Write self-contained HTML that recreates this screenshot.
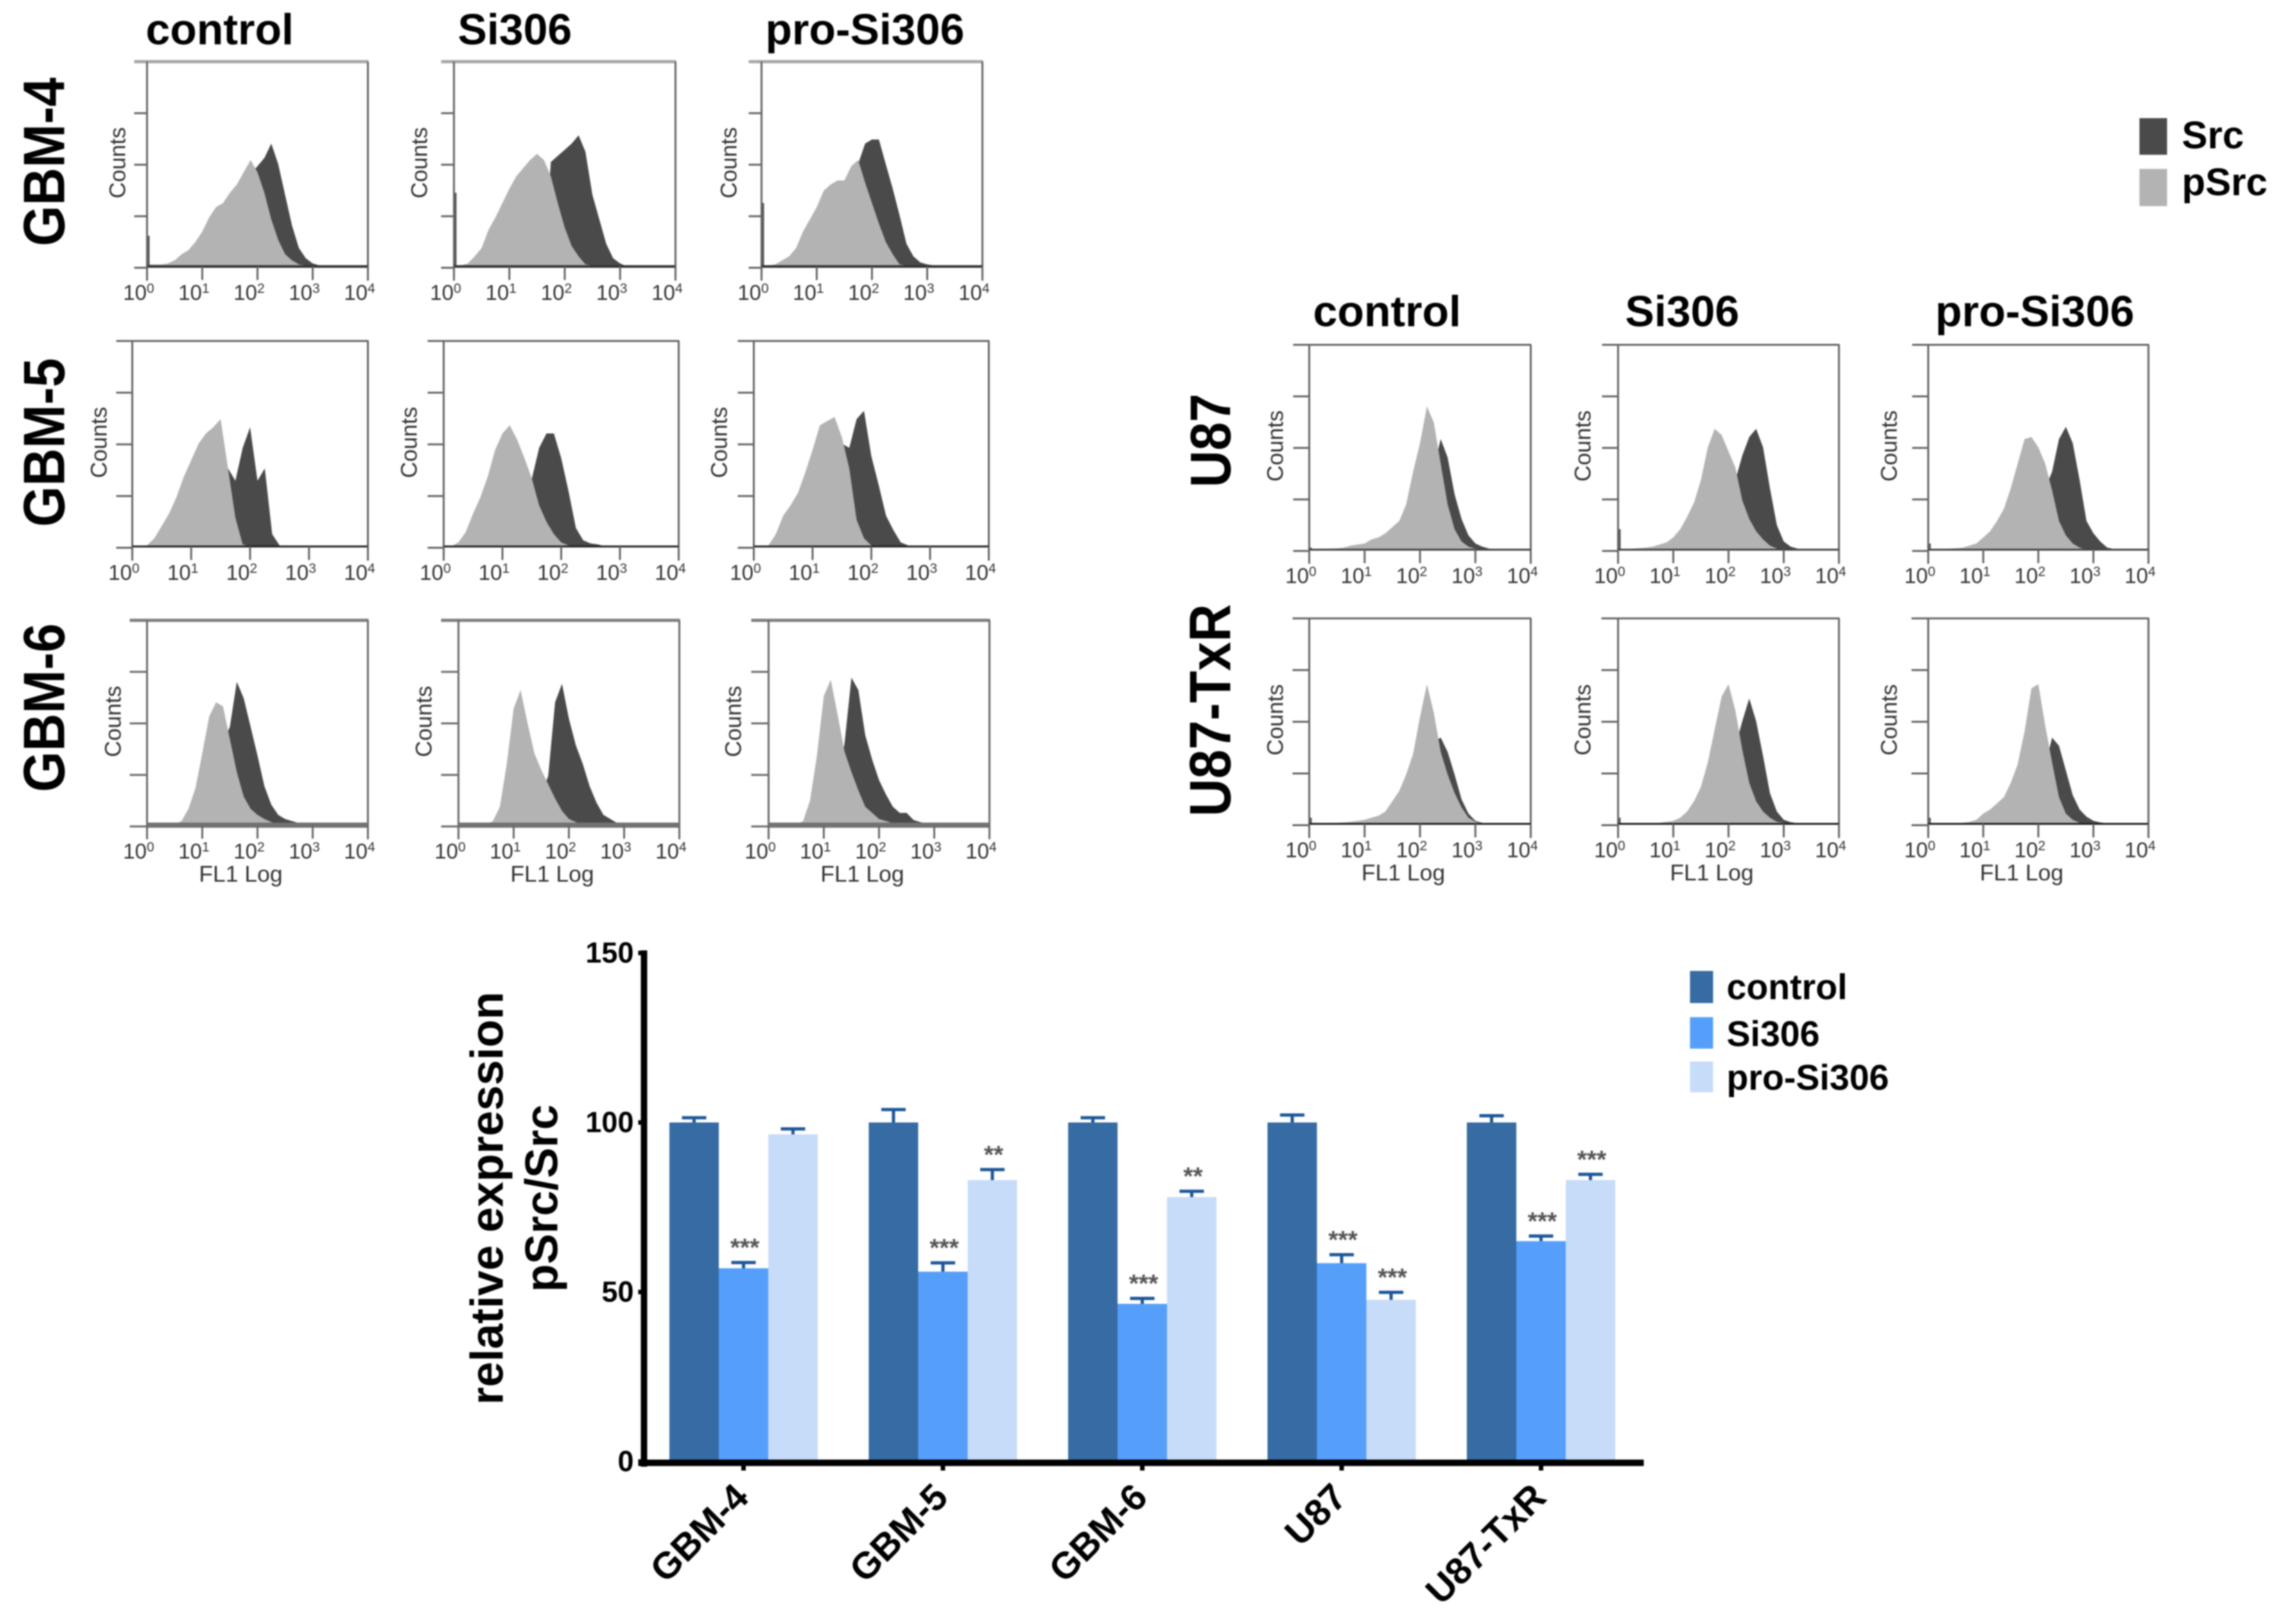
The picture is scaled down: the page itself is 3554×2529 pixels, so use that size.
<!DOCTYPE html>
<html lang="en">
<head>
<meta charset="utf-8">
<title>Src and pSrc flow cytometry and relative expression</title>
<style>
html,body{margin:0;padding:0;background:#fff;}
body{width:3554px;height:2529px;overflow:hidden;}
svg{display:block;filter:blur(1px);}
text{font-family:"Liberation Sans",sans-serif;}
.b{font-weight:bold;fill:#000;}
</style>
</head>
<body>
<svg id="figure" xmlns="http://www.w3.org/2000/svg" width="3554" height="2529" viewBox="0 0 3554 2529">
<rect x="0" y="0" width="3554" height="2529" fill="#fff"/>

<text class="b" x="227" y="69" font-size="68">control</text>
<text class="b" x="713" y="69" font-size="68">Si306</text>
<text class="b" x="1192" y="69" font-size="68">pro-Si306</text>
<text class="b" x="2045" y="508" font-size="68">control</text>
<text class="b" x="2531" y="508" font-size="68">Si306</text>
<text class="b" x="3014" y="508" font-size="68">pro-Si306</text>

<text class="b" text-anchor="middle" font-size="80" transform="translate(100 252) rotate(-90) scale(1.02 1.14)">GBM-4</text>
<text class="b" text-anchor="middle" font-size="80" transform="translate(100 689) rotate(-90) scale(1.02 1.14)">GBM-5</text>
<text class="b" text-anchor="middle" font-size="80" transform="translate(100 1102) rotate(-90) scale(1.02 1.14)">GBM-6</text>
<text class="b" text-anchor="middle" font-size="78" transform="translate(1916 686) rotate(-90) scale(1.02 1.14)">U87</text>
<text class="b" text-anchor="middle" font-size="80" transform="translate(1916 1106) rotate(-90) scale(1.02 1.14)">U87-TxR</text>

<g>
<rect x="3332" y="184" width="43" height="57" fill="#4a4a4a"/>
<text class="b" x="3398" y="231" font-size="60">Src</text>
<rect x="3332" y="263" width="43" height="58" fill="#b3b3b3"/>
<text class="b" x="3398" y="304" font-size="60">pSrc</text>
</g>

<g>
<rect x="2632" y="1512" width="36" height="50" fill="#376ba3"/>
<text class="b" x="2689" y="1556" font-size="55.5">control</text>
<rect x="2632" y="1584" width="36" height="49" fill="#559ffb"/>
<text class="b" x="2689" y="1629" font-size="55.5">Si306</text>
<rect x="2632" y="1653" width="36" height="48" fill="#c7dcf8"/>
<text class="b" x="2689" y="1697" font-size="55.5">pro-Si306</text>
</g>

<text class="b" text-anchor="middle" font-size="71" transform="translate(783 1866) rotate(-90)">relative expression</text>
<text class="b" text-anchor="middle" font-size="71" transform="translate(868 1866) rotate(-90)">pSrc/Src</text>

<g id="panels"></g>
<g id="bars"></g>
</svg>

<script>
// Histogram heights: % of plot height in bins of 1/8 decade from 10^0 (trailing bins are zero).
const gbm4ControlPSrc=[1,1,1,1.5,3,6,8,12,17,24,29,31,36,40,46,52,46,36,23,13,6,3,1,.5];
const gbm4ControlSrc=[0,0,0,0,0,0,0,0,0,0,0,0,0,0,0,45,49,53,60,50,35,20,9,4,1.5,.5];
const gbm4Si306PSrc=[.5,.5,1.5,5,9,18,24,31,38,44,48,52,55,52,44,31,19,10,5,1,.5];
const gbm4Si306Src=[0,0,0,0,0,0,0,0,0,0,0,0,0,0,51,54,57,60,64,56,35,23,11,4,1.5];
const gbm4ProPSrc=[.5,.5,1,3,5,9,17,23,29,37,40,42,42,49,52,41,31,21,12,6,1,.5];
const gbm4ProSrc=[0,0,0,0,0,0,0,0,0,0,0,0,0,0,50,60,62,62,50,38,25,11,5,2,1,.5];
const gbm5ControlPSrc=[0,0,.5,4,10,16,24,34,42,50,55,58,62,38,14,1];
const gbm5ControlSrc=[0,0,0,0,0,0,0,0,0,0,0,0,0,38,32,48,58,32,38,6,.5];
const gbm5Si306PSrc=[0,0,2,7,16,24,34,47,55,59,52,43,33,20,12,6,2,.5];
const gbm5Si306Src=[0,0,0,0,0,0,0,0,0,0,0,0,33,48,55,55,43,27,9,3,1.5,1];
const gbm5ProPSrc=[0,0,.5,6,15,20,26,36,47,59,61,63,53,38,13,4,.5];
const gbm5ProSrc=[0,0,0,0,0,0,0,0,0,0,0,0,50,48,62,66,44,30,15,8,2,.5];
const gbm6ControlPSrc=[0,0,0,0,.5,2,8,18,35,53,60,58,42,26,14,8,5,3,1.5,.5];
const gbm6ControlSrc=[0,0,0,0,0,0,0,0,0,0,0,40,48,70,62,48,34,19,10,5,3,2,1,.5];
const gbm6Si306PSrc=[0,0,0,0,.3,2,9,30,57,66,50,35,27,20,13,7,3,1.5,.5];
const gbm6Si306Src=[0,0,0,0,0,0,0,0,0,0,0,0,15,24,60,69,52,39,30,19,11,5,3,1];
const gbm6ProPSrc=[0,0,0,0,.3,2,12,34,63,71,54,36,26,17,9,6,3,2,1,.5];
const gbm6ProSrc=[0,0,0,0,0,0,0,0,0,0,20,40,72,66,44,32,22,15,9,6,6,2.5,1.5,.7,.2];
const u87ControlPSrc=[.3,.3,.5,.5,.7,1,2,2.5,3,5,6,8,11,14,22,38,52,70,62,42,22,10,4,1.5,.5];
const u87ControlSrc=[0,0,0,0,0,0,0,0,0,0,0,0,0,0,0,0,0,0,40,54,45,27,15,7,3,1.5,.5];
const u87Si306PSrc=[.5,.3,.5,.7,1,1.5,2.5,3.5,6,10,16,23,34,50,59,56,48,40,24,15,9,5,2,.5];
const u87Si306Src=[0,0,0,0,0,0,0,0,0,0,0,0,0,0,0,0,0,34,46,55,59,50,30,12,4,1.5,.5];
const u87ProPSrc=[.5,.3,.3,.5,.7,1,2,3,6,9,14,20,30,42,54,55,50,42,29,14,7,3,1];
const u87ProSrc=[0,0,0,0,0,0,0,0,0,0,0,0,0,0,0,0,0,30,38,54,60,52,34,14,8,4,1,.3];
const txrControlPSrc=[.5,.3,.3,.5,.5,.7,1,1.5,2,3,4,6,11,16,24,34,52,68,54,35,24,15,8,3,1,.3];
const txrControlSrc=[0,0,0,0,0,0,0,0,0,0,0,0,0,0,0,0,0,0,40,42,35,24,12,5,1.5,.5];
const txrSi306PSrc=[.5,.2,.2,.3,.3,.4,.5,1,1.5,3,6,11,18,30,46,62,68,55,36,20,11,6,3,1,.5];
const txrSi306Src=[0,0,0,0,0,0,0,0,0,0,0,0,0,0,0,0,0,38,50,61,50,33,15,6,2,.8,.3];
const txrProPSrc=[.5,.3,.2,.3,.3,.5,1,2,5,7,10,13,20,29,45,66,68,48,30,13,5,2,.5];
const txrProSrc=[0,0,0,0,0,0,0,0,0,0,0,0,0,0,0,0,0,28,42,38,26,14,7,3.5,1.5,.7,.3];
const leftSpikes=[15,36,31,0,0,0,0,0,0,1,10,3,3,3,3];
const decadeTicks=[0,1,2,3,4];
const countFractions=[0,.25,.5,.75,1];
const binsPerDecade=8;

// Bar chart values.
const categories=["GBM-4","GBM-5","GBM-6","U87","U87-TxR"];
const controlValues=[100,100,100,100,100];
const si306Values=[57,56,46.5,58.5,65];
const proValues=[96.5,83,78,47.7,83];
const controlErrors=[1.4,3.8,1.4,2.2,2];
const si306Errors=[1.7,2.6,1.6,2.5,1.5];
const proErrors=[1.6,3.1,1.7,2.2,1.7];
const si306Sig=["***","***","***","***","***"];
const proSig=["","**","**","***","***"];
const yTicks=[0,50,100,150];

const NS='http://www.w3.org/2000/svg';
function make(tag,attrs,parent){
  const e=document.createElementNS(NS,tag);
  for(const k in attrs){e.setAttribute(k,attrs[k]);}
  parent.appendChild(e);
  return e;
}

const panelHost=document.getElementById('panels');
const barHost=document.getElementById('bars');

// Panel layout: plot rectangle and stroke styling.
const rowGbm4={top:96,base:415,tick:20,topC:'#a8a8a8',topW:5,frameC:'#666',frameW:3,baseC:'#333',baseW:4,fl:false};
const rowGbm5={top:531,base:851,tick:25,topC:'#666',topW:3,frameC:'#666',frameW:3,baseC:'#222',baseW:3,fl:false};
const rowGbm6={top:966,base:1285,tick:27,topC:'#808080',topW:5,frameC:'#6a6a6a',frameW:3,baseC:'#727272',baseW:8,fl:true};
const rowU87={top:537,base:856,tick:25,topC:'#666',topW:3,frameC:'#666',frameW:3,baseC:'#444',baseW:3,fl:false};
const rowTxr={top:963,base:1283,tick:26,topC:'#666',topW:3,frameC:'#666',frameW:3,baseC:'#222',baseW:3,fl:true};

const panels=[
 {id:'gbm-4-control',row:rowGbm4,left:229,right:573,c:-34,l:gbm4ControlPSrc,d:gbm4ControlSrc},
 {id:'gbm-4-si306',row:rowGbm4,left:707,right:1052,c:-42,l:gbm4Si306PSrc,d:gbm4Si306Src},
 {id:'gbm-4-pro-si306',row:rowGbm4,left:1186,right:1530,c:-39,l:gbm4ProPSrc,d:gbm4ProSrc},
 {id:'gbm-5-control',row:rowGbm5,left:206,right:573,c:-40,l:gbm5ControlPSrc,d:gbm5ControlSrc},
 {id:'gbm-5-si306',row:rowGbm5,left:691,right:1057,c:-42,l:gbm5Si306PSrc,d:gbm5Si306Src},
 {id:'gbm-5-pro-si306',row:rowGbm5,left:1174,right:1540,c:-42,l:gbm5ProPSrc,d:gbm5ProSrc},
 {id:'gbm-6-control',row:rowGbm6,left:229,right:573,c:-41,l:gbm6ControlPSrc,d:gbm6ControlSrc},
 {id:'gbm-6-si306',row:rowGbm6,left:714,right:1058,c:-42,l:gbm6Si306PSrc,d:gbm6Si306Src},
 {id:'gbm-6-pro-si306',row:rowGbm6,left:1197,right:1541,c:-43,l:gbm6ProPSrc,d:gbm6ProSrc},
 {id:'u87-control',row:rowU87,left:2039,right:2384,c:-41,l:u87ControlPSrc,d:u87ControlSrc},
 {id:'u87-si306',row:rowU87,left:2520,right:2864,c:-43,l:u87Si306PSrc,d:u87Si306Src},
 {id:'u87-pro-si306',row:rowU87,left:3003,right:3346,c:-49,l:u87ProPSrc,d:u87ProSrc},
 {id:'u87-txr-control',row:rowTxr,left:2039,right:2384,c:-41,l:txrControlPSrc,d:txrControlSrc},
 {id:'u87-txr-si306',row:rowTxr,left:2520,right:2864,c:-43,l:txrSi306PSrc,d:txrSi306Src},
 {id:'u87-txr-pro-si306',row:rowTxr,left:3003,right:3346,c:-49,l:txrProPSrc,d:txrProSrc}
];

function areaPath(values,xScale,yScale){
  let d='M'+xScale(0)+' '+yScale(0);
  for(let i=0;i<=4*binsPerDecade;i++){
    const v=values[i]||0;
    d+=' L'+xScale(i/binsPerDecade).toFixed(1)+' '+yScale(v).toFixed(1);
  }
  d+=' L'+xScale(4)+' '+yScale(0)+' Z';
  return d;
}

panels.forEach(function(p,index){
  const r=p.row;
  const xScale=function(dec){return p.left+(p.right-p.left)*dec/4;};
  const yScale=function(pct){return r.base-(r.base-r.top)*pct/100;};
  const g=make('g',{},panelHost);
  
  

  const dark=make('path',{d:areaPath(p.d,xScale,yScale),fill:'#4a4a4a'},g);
  
  
  const light=make('path',{d:areaPath(p.l,xScale,yScale),fill:'#b3b3b3'},g);
  
  

  if(leftSpikes[index]>0){
    const spike=make('rect',{x:xScale(0),y:yScale(leftSpikes[index]),width:4,height:r.base-yScale(leftSpikes[index]),fill:'#555'},g);
    
    
  }

  const topLine=make('line',{x1:p.left-r.tick,x2:p.right+1,y1:r.top,y2:r.top,stroke:r.topC,'stroke-width':r.topW},g);
  
  
  const leftLine=make('line',{x1:p.left,x2:p.left,y1:r.top,y2:r.base+22,stroke:r.frameC,'stroke-width':r.frameW},g);
  
  
  const rightLine=make('line',{x1:p.right,x2:p.right,y1:r.top,y2:r.base+22,stroke:r.frameC,'stroke-width':r.frameW},g);
  
  
  const baseLine=make('line',{x1:p.left,x2:p.right,y1:r.base,y2:r.base,stroke:r.baseC,'stroke-width':r.baseW},g);
  
  

  countFractions.forEach(function(f){
    if(f===1){return;}
    const y=r.top+(r.base+2-r.top)*(1-f);
    const t=make('line',{x1:p.left-r.tick,x2:p.left,y1:y,y2:y,stroke:r.frameC,'stroke-width':3},g);
    
    
  });

  decadeTicks.forEach(function(dec){
    const x=xScale(dec);
    const t=make('line',{x1:x,x2:x,y1:r.base,y2:r.base+21,stroke:r.frameC,'stroke-width':3},g);
    
    
    const lab=make('text',{x:x-13,y:r.base+52,'font-size':33,fill:'#333','text-anchor':'middle'},g);
    
    
    lab.appendChild(document.createTextNode('10'));
    const sup=make('tspan',{'font-size':21,dy:-11},lab);
    sup.textContent=String(dec);
  });

  const cx=p.left+p.c;
  const cy=(r.top+r.base)/2-2;
  const counts=make('text',{'font-size':35,fill:'#333','text-anchor':'middle',transform:'translate('+cx+' '+cy+') rotate(-90)'},g);
  
  
  counts.textContent='Counts';

  if(r.fl){
    const fl=make('text',{x:(p.left+p.right)/2-26,y:r.base+88,'font-size':35.5,fill:'#333','text-anchor':'middle'},g);
    
    
    fl.textContent='FL1 Log';
  }
});

// Bar chart axis functions.
const groupStart=1042.5;
const groupStep=310.5;
const barWidth=77;
const zeroY=2276;
const unitPx=5.28;
function barX(group,series){return groupStart+group*groupStep+series*barWidth;}
function valueY(v){return zeroY-v*unitPx;}

const series=[
 {name:'control',values:controlValues,errors:controlErrors,sig:null,color:'#376ba3'},
 {name:'si306',values:si306Values,errors:si306Errors,sig:si306Sig,color:'#559ffb'},
 {name:'pro-si306',values:proValues,errors:proErrors,sig:proSig,color:'#c7dcf8'}
];

series.forEach(function(s,si){
  s.values.forEach(function(v,gi){
    const x=barX(gi,si);
    const bar=make('rect',{x:x,y:valueY(v),width:barWidth,height:zeroY-valueY(v),fill:s.color},barHost);
    
    
  });
});

series.forEach(function(s,si){
  s.values.forEach(function(v,gi){
    const cx=barX(gi,si)+barWidth/2;
    const capY=valueY(v+s.errors[gi]);
    const stem=make('line',{x1:cx,x2:cx,y1:valueY(v),y2:capY,stroke:'#1d5699','stroke-width':5},barHost);
    
    
    const cap=make('line',{x1:cx-19,x2:cx+19,y1:capY,y2:capY,stroke:'#1d5699','stroke-width':5},barHost);
    
    
    if(s.sig&&s.sig[gi]){
      const sig=make('text',{x:cx+2,y:capY-10,'font-size':39,'font-weight':'bold',fill:'#555','text-anchor':'middle'},barHost);
      
      
      sig.textContent=s.sig[gi];
    }
  });
});

const yAxis=make('line',{x1:1003,x2:1003,y1:valueY(yTicks[yTicks.length-1])-4,y2:zeroY+8,stroke:'#000','stroke-width':10},barHost);


const xAxis=make('line',{x1:994,x2:2560,y1:zeroY+2,y2:zeroY+2,stroke:'#000','stroke-width':10},barHost);



yTicks.forEach(function(v){
  const y=valueY(v);
  const t=make('line',{x1:994,x2:1003,y1:y,y2:y,stroke:'#000','stroke-width':7},barHost);
  
  
  const lab=make('text',{x:987,y:y+15,'font-size':45,'font-weight':'bold',fill:'#000','text-anchor':'end'},barHost);
  
  
  lab.textContent=String(v);
});

categories.forEach(function(c,gi){
  const cx=barX(gi,1)+barWidth/2;
  const t=make('line',{x1:cx,x2:cx,y1:zeroY+2,y2:zeroY+14,stroke:'#000','stroke-width':7},barHost);
  
  
  const lab=make('text',{'font-size':58,'font-weight':'bold',fill:'#000','text-anchor':'end',transform:'translate('+(cx+11)+' 2335) rotate(-45)'},barHost);
  
  
  lab.textContent=c;
});
</script>
</body>
</html>
